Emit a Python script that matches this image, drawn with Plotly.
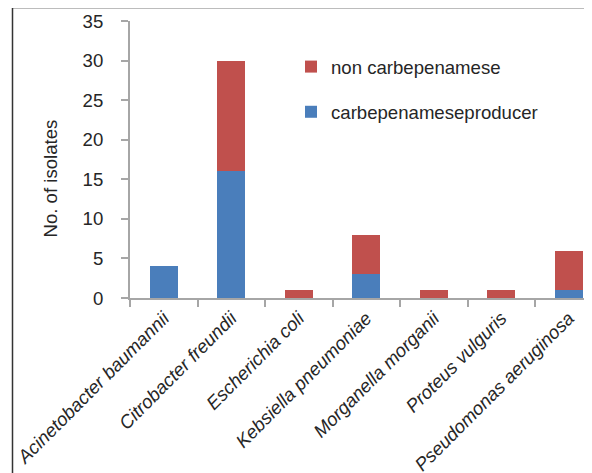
import plotly.graph_objects as go

categories = ["Acinetobacter baumannii", "Citrobacter freundii", "Escherichia coli",
              "Kebsiella pneumoniae", "Morganella morganii", "Proteus vulguris",
              "Pseudomonas aeruginosa"]
producer = [4, 16, 0, 3, 0, 0, 1]
non_producer = [0, 14, 1, 5, 1, 1, 5]
y_ticks = [0, 5, 10, 15, 20, 25, 30, 35]

W, H = 592, 473
OFF = 8  # page body margin offset of the figure in the window
L, T = 130 - OFF, 21 - OFF
R = OFF
B = H - (298 - OFF)
pw, ph = W - L - R, H - T - B

def px(x):  # window pixel -> paper
    return (x - OFF - L) / pw

def py(y):
    return (H - B - (y - OFF)) / ph

font = "Liberation Sans, Arial, sans-serif"
txt = "#262626"
axc = "#a6a6a6"
fs = 18.6

fig = go.Figure()
fig.add_trace(go.Bar(x=categories, y=producer, name="carbepenameseproducer",
                     marker=dict(color="#4a7ebb", line=dict(width=0)),
                     width=0.41, legendgroup="a", legendrank=2))
fig.add_trace(go.Bar(x=categories, y=non_producer, name="non carbepenamese",
                     marker=dict(color="#c0504d", line=dict(width=0)),
                     width=0.41, legendgroup="b", legendrank=1))

fig.update_layout(
    width=W, height=H, barmode="stack",
    margin=dict(l=L, r=R, t=T, b=B, pad=0, autoexpand=False),
    paper_bgcolor="white", plot_bgcolor="white",
    font=dict(family=font, size=fs, color=txt),
    showlegend=True,
    legend=dict(x=px(291), y=py(48), xanchor="left", yanchor="top",
                traceorder="grouped", tracegroupgap=18,
                font=dict(size=fs, color=txt), bgcolor="rgba(0,0,0,0)"),
    xaxis=dict(range=[-0.5, -0.5 + pw / 67.5], showgrid=False, zeroline=False,
               automargin=False,
               showline=True, linecolor=axc, linewidth=2,
               ticks="outside", tickson="boundaries", ticklen=7, tickcolor=axc, tickwidth=2,
               tickangle=-45, tickfont=dict(size=fs, color=txt, style="italic", family=font)),
    yaxis=dict(range=[0, 35], tickvals=y_ticks, showgrid=False, zeroline=False,
               automargin=False,
               showline=True, linecolor=axc, linewidth=2,
               ticks="outside", ticklen=7, tickcolor=axc, tickwidth=2,
               ticklabelstandoff=14,
               tickfont=dict(size=fs, color=txt, family=font)),
    annotations=[dict(text="No. of isolates", textangle=-90, showarrow=False,
                      xref="paper", yref="paper", x=px(50), y=py(178.5),
                      xanchor="center", yanchor="middle",
                      font=dict(size=fs, color=txt, family=font))],
    shapes=[
        dict(type="line", xref="paper", yref="paper", x0=px(12), x1=px(610),
             y0=py(7.5), y1=py(7.5), line=dict(color="#7a7a7a", width=2)),
        dict(type="line", xref="paper", yref="paper", x0=px(12.5), x1=px(12.5),
             y0=py(6.5), y1=py(490), line=dict(color="#333333", width=1.5)),
    ],
)

fig.write_html("out.html")
